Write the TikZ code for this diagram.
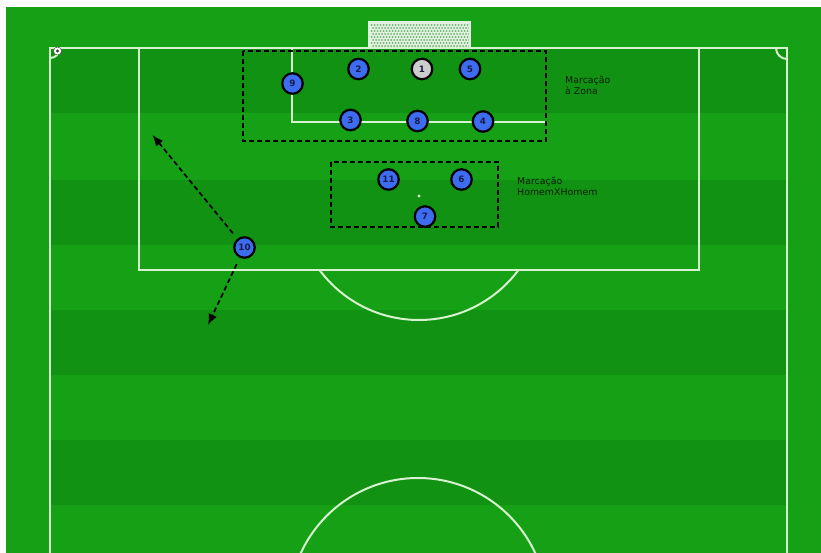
\documentclass[tikz,border=0pt]{standalone}
\usepackage{fontspec}
\setmainfont{DejaVu Sans}
\usetikzlibrary{arrows.meta}
\definecolor{grassL}{RGB}{22,160,22}
\definecolor{grassD}{RGB}{18,146,18}
\definecolor{chalk}{RGB}{214,242,206}
\definecolor{pblue}{RGB}{62,108,240}
\definecolor{pgray}{RGB}{205,205,205}
\definecolor{numcol}{RGB}{24,28,70}
\definecolor{netfill}{RGB}{226,242,224}
\definecolor{nethole}{RGB}{110,175,110}
\definecolor{labcol}{RGB}{8,30,8}
\tikzset{
  pitchline/.style={draw=chalk, line width=2pt},
  player/.style={circle, draw=black, line width=2.2pt, fill=pblue, minimum size=20.5pt, inner sep=0pt,
    font=\fontsize{8.8}{8.8}\selectfont\bfseries, text=numcol},
  keeper/.style={player, fill=pgray},
  markbox/.style={draw=black, line width=1.6pt, dash pattern=on 5pt off 3pt},
  runarrow/.style={draw=black, line width=1.7pt, dash pattern=on 5pt off 3pt, -{Latex[length=11pt,width=9pt]}, shorten <=7pt},
  lab/.style={anchor=west, align=left, inner sep=0pt, text=labcol, font=\fontsize{9.4}{11}\selectfont}
}
\begin{document}
\begin{tikzpicture}[x=1pt,y=-1pt]
\useasboundingbox (0,0) rectangle (821,553);
\fill[white] (0,0) rectangle (821,553);
\fill[grassL] (6,7) rectangle (821,553);
% stripes
\foreach \ya/\yb in {48/113,180/245,310/375,440/505}
  \fill[grassD] (50,\ya) rectangle (787,\yb);
% goal net
\fill[netfill] (369,22) rectangle (470,48);
\foreach \i in {0,...,32}
  \foreach \j in {0,...,7}
    \fill[nethole] ({371.5+3*\i+1.5*mod(\j,2)},{25+3*\j}) circle[radius=1.0pt];
\draw[draw=netfill, line width=1.5pt] (369,48) -- (369,22) -- (470,22) -- (470,48);
% pitch lines
\draw[pitchline] (50,553) -- (50,48) -- (787,48) -- (787,553);
\draw[pitchline] (139,48) -- (139,270) -- (699,270) -- (699,48);
\draw[pitchline] (292,48) -- (292,122) -- (545,122);
\begin{scope}
  \clip (0,270) rectangle (821,553);
  \draw[pitchline] (419,196) circle[radius=124pt];
\end{scope}
\draw[pitchline] (418,607) circle[radius=129pt];
\begin{scope}
  \clip (50,48) rectangle (787,553);
  \draw[pitchline] (50,48) circle[radius=10pt];
  \draw[pitchline] (787,48) circle[radius=11pt];
\end{scope}
\fill[chalk] (419,196) circle[radius=1.6pt];
% ball at corner
\filldraw[fill=white, draw=black!70, line width=0.5pt] (57.5,51) circle[radius=4pt];
\fill[black!80] (57.5,51) circle[radius=1.6pt];
% marking boxes
\draw[markbox] (243,51) rectangle (546,141);
\draw[markbox] (331,162) rectangle (498,227);
% players
\node[player] (p9) at (292.5,83.5) {9};
\node[player] (p2) at (358.5,69) {2};
\node[keeper] (p1) at (422,69) {1};
\node[player] (p5) at (470,69) {5};
\node[player] (p3) at (350.5,120) {3};
\node[player] (p8) at (417.5,121) {8};
\node[player] (p4) at (483,121.5) {4};
\node[player] (p11) at (388.5,179.5) {11};
\node[player] (p6) at (461.5,179.5) {6};
\node[player] (p7) at (425,216.5) {7};
\node[player] (p10) at (244.5,247.5) {10};
% runs
\coordinate (t1) at (152.5,135);
\coordinate (t2) at (208,325);
\draw[runarrow] (p10) -- (t1);
\draw[runarrow] (p10) -- (t2);
% labels
\node[lab] (l1) at (565,85) {Marcação\\à Zona};
\node[lab] (l2) at (517,186) {Marcação\\HomemXHomem};
\end{tikzpicture}
\end{document}
